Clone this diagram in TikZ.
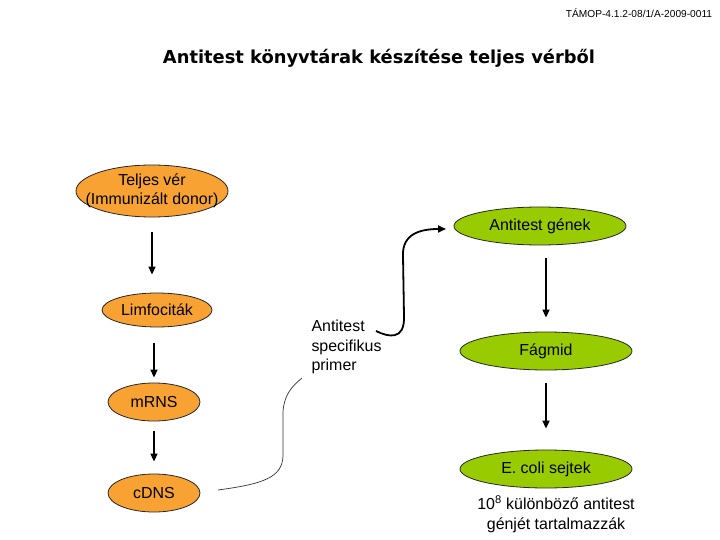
\documentclass[tikz,border=0pt]{standalone}
\usepackage{fontspec}
\usepackage{graphicx}
\setmainfont{Liberation Sans}
\newfontfamily\titlefont{DejaVu Sans}
\usetikzlibrary{shapes.geometric,arrows.meta}
\definecolor{orangefill}{RGB}{248,162,52}
\definecolor{greenfill}{RGB}{153,204,0}
\tikzset{
  oval/.style={ellipse, draw=black!85, line width=0.8bp, inner sep=0pt},
  orangeoval/.style={oval, fill=orangefill},
  greenoval/.style={oval, fill=greenfill},
  lbl/.style={font=\fontsize{16}{19.5}\selectfont, align=center},
  flowarrow/.style={line width=1.6bp, -{Triangle[length=8bp,width=7bp]}},
}
\begin{document}
\begin{tikzpicture}[x=1bp,y=-1bp]
\useasboundingbox (0,0) rectangle (720,540);
% header and title
\node[font=\fontsize{10.2}{12}\selectfont] (hdr) at (639,13) {TÁMOP-4.1.2-08/1/A-2009-0011};
\node (title) at (379,58) {\resizebox{432bp}{!}{\titlefont\bfseries Antitest könyvtárak készítése teljes vérből}};
% left column
\node[orangeoval, minimum width=152bp, minimum height=52bp,
      label={[lbl]center:Teljes vér\\(Immunizált donor)}] (blood) at (152,191) {};
\node[orangeoval, minimum width=110bp, minimum height=34bp,
      label={[lbl]center:Limfociták}] (lymph) at (157,310) {};
\node[orangeoval, minimum width=92bp, minimum height=38bp,
      label={[lbl]center:mRNS}] (mrns) at (154,402) {};
\node[orangeoval, minimum width=92bp, minimum height=38bp,
      label={[lbl]center:cDNS}] (cdns) at (154,493) {};
% right column
\node[greenoval, minimum width=172bp, minimum height=38bp,
      label={[lbl]center:Antitest gének}] (genes) at (540,226) {};
\node[greenoval, minimum width=172bp, minimum height=38bp,
      label={[lbl]center:Fágmid}] (fagmid) at (546,351) {};
\node[greenoval, minimum width=172bp, minimum height=38bp,
      label={[lbl]center:E. coli sejtek}] (ecoli) at (546,469) {};
\node[lbl] (note) at (556,514) {10\textsuperscript{8} különböző antitest\\génjét tartalmazzák};
% middle text
\node[lbl, align=left, anchor=west] (primer) at (308,347) {Antitest\\specifikus\\primer};
% vertical arrows
\draw[flowarrow, shorten <=15bp, shorten >=18bp] (blood.south) -- (blood.south |- lymph.north);
\draw[flowarrow, shorten <=16bp, shorten >=5bp] (lymph.south -| mrns) -- (mrns.north);
\draw[flowarrow, shorten <=10bp, shorten >=12bp] (mrns.south) -- (cdns.north);
\draw[flowarrow, shorten <=13bp, shorten >=14bp] (genes.south -| fagmid) -- (fagmid.north);
\draw[flowarrow, shorten <=13bp, shorten >=21bp] (fagmid.south) -- (ecoli.north);
% curved connectors
\coordinate (c1) at (218,490);
\coordinate (c2) at (302,378);
\draw[line width=0.7bp, black!80] (c1) .. controls (262,484) and (283,478) .. (283,455)
   -- (283,412) .. controls (284,395) and (292,386) .. (c2);
\coordinate (p1) at (376,331);
\coordinate (p2) at (446,229);
\draw[line width=1.8bp, -{Triangle[length=8bp,width=7bp]}] (p1) .. controls (388,337) and (405,341) .. (404,316)
   -- (403,256) .. controls (402,234) and (420,229) .. (p2);
\end{tikzpicture}
\end{document}
